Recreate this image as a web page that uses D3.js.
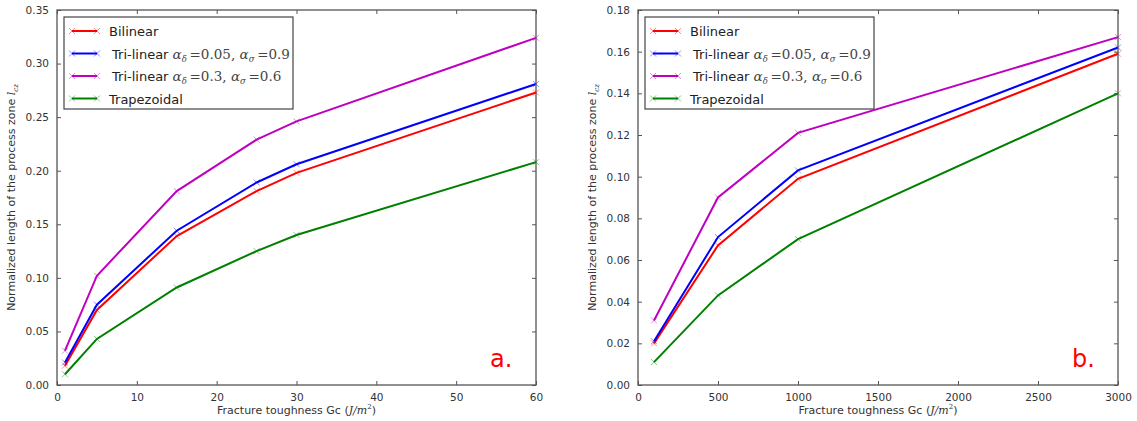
<!DOCTYPE html>
<html>
<head>
<meta charset="utf-8">
<script src="https://d3js.org/d3.v7.min.js"></script>
<style>
  body { margin: 0; background: #fff; }
  text { font-family: 'DejaVu Sans', sans-serif; }
  .tick text { fill: #333; font-size: 10.5px; }
  .frame { fill: none; stroke: #555; stroke-width: 1.3; }
  .tick line { stroke: #555; }
</style>
</head>
<body>
<svg id="chart"></svg>
<script>
const WIDTH  = 1137;
const HEIGHT = 421;

// series names and colours
const seriesNames  = ['Bilinear', 'Tri-linear a', 'Tri-linear b', 'Trapezoidal'];
const seriesColors = ['#ff0000', '#0000ff', '#bf00bf', '#008000'];

// panel a.
const gcA          = [1, 5, 15, 25, 30, 60];
const bilinearA    = [0.018, 0.070, 0.139, 0.181, 0.198, 0.273];
const triLinear1A  = [0.021, 0.075, 0.144, 0.189, 0.206, 0.281];
const triLinear2A  = [0.032, 0.102, 0.181, 0.229, 0.246, 0.324];
const trapezoidalA = [0.010, 0.043, 0.091, 0.125, 0.140, 0.208];
const xTicksA = [0, 10, 20, 30, 40, 50, 60];
const yTicksA = [0, 0.05, 0.10, 0.15, 0.20, 0.25, 0.30, 0.35];

// panel b.
const gcB          = [100, 500, 1000, 3000];
const bilinearB    = [0.020, 0.067, 0.099, 0.159];
const triLinear1B  = [0.021, 0.071, 0.103, 0.162];
const triLinear2B  = [0.031, 0.090, 0.121, 0.167];
const trapezoidalB = [0.011, 0.043, 0.070, 0.140];
const xTicksB = [0, 500, 1000, 1500, 2000, 2500, 3000];
const yTicksB = [0, 0.02, 0.04, 0.06, 0.08, 0.10, 0.12, 0.14, 0.16, 0.18];

const svg = d3.select('#chart')
  .attr('width', WIDTH)
  .attr('height', HEIGHT);

const SERIF = "'DejaVu Serif', 'Liberation Serif', serif";

function cross(cx, cy, s) {
  return 'M' + (cx - s) + ',' + (cy - s) + 'L' + (cx + s) + ',' + (cy + s) +
         'M' + (cx - s) + ',' + (cy + s) + 'L' + (cx + s) + ',' + (cy - s);
}

function drawPanel(opt) {
  const x = d3.scaleLinear().domain(opt.xDomain).range([opt.left, opt.right]);
  const y = d3.scaleLinear().domain(opt.yDomain).range([opt.bottom, opt.top]);
  const g = svg.append('g');

  // ticks inward on all sides
  g.append('g')
    .attr('transform', 'translate(0,' + opt.bottom + ')')
    .call(d3.axisBottom(x).tickValues(opt.xTicks).tickSize(-4).tickPadding(9).tickFormat(d3.format('d')))
    .call(a => a.select('.domain').remove());
  g.append('g')
    .attr('transform', 'translate(0,' + opt.top + ')')
    .call(d3.axisTop(x).tickValues(opt.xTicks).tickSize(-4).tickFormat(''))
    .call(a => a.select('.domain').remove());
  g.append('g')
    .attr('transform', 'translate(' + opt.left + ',0)')
    .call(d3.axisLeft(y).tickValues(opt.yTicks).tickSize(-4).tickPadding(8).tickFormat(d3.format('.2f')))
    .call(a => a.select('.domain').remove());
  g.append('g')
    .attr('transform', 'translate(' + opt.right + ',0)')
    .call(d3.axisRight(y).tickValues(opt.yTicks).tickSize(-4).tickFormat(''))
    .call(a => a.select('.domain').remove());

  // data lines
  const line = d3.line().x(d => x(d[0])).y(d => y(d[1]));
  opt.series.forEach((vals, i) => {
    const pts = opt.xs.map((v, j) => [v, vals[j]]);
    g.append('path')
      .datum(pts)
      .attr('d', line)
      .attr('fill', 'none')
      .attr('stroke', seriesColors[i])
      .attr('stroke-width', 2);
    g.selectAll(null)
      .data(pts)
      .enter().append('path')
      .attr('d', d => cross(x(d[0]), y(d[1]), 3))
      .attr('stroke', seriesColors[i])
      .attr('stroke-opacity', 0.45)
      .attr('stroke-width', 1);
  });

  // frame
  g.append('rect')
    .attr('class', 'frame')
    .attr('x', opt.left).attr('y', opt.top)
    .attr('width', opt.right - opt.left)
    .attr('height', opt.bottom - opt.top);

  // legend
  const lx = opt.left + 7, ly = opt.top + 7;
  g.append('rect')
    .attr('x', lx).attr('y', ly)
    .attr('width', 229).attr('height', 92)
    .attr('fill', '#fff')
    .attr('stroke', '#444')
    .attr('stroke-width', 1.2);
  // parts: i = italic serif, s = subscript, m = upright serif
  const labels = [
    [['Bilinear']],
    [['Tri-linear '], ['α', 'i'], ['δ', 's'], ['\u2009=0.05, ', 'm'], ['α', 'i'], ['σ', 's'], ['\u2009=0.9', 'm']],
    [['Tri-linear '], ['α', 'i'], ['δ', 's'], ['\u2009=0.3, ', 'm'], ['α', 'i'], ['σ', 's'], ['\u2009=0.6', 'm']],
    [['Trapezoidal']]
  ];
  seriesNames.forEach((name, i) => {
    const yy = ly + 14 + i * 22.5;
    g.append('line')
      .attr('x1', lx + 8).attr('x2', lx + 33)
      .attr('y1', yy).attr('y2', yy)
      .attr('stroke', seriesColors[i]).attr('stroke-width', 2);
    [lx + 8, lx + 33].forEach(cx => {
      g.append('path')
        .attr('d', cross(cx, yy, 3))
        .attr('stroke', seriesColors[i]).attr('stroke-opacity', 0.45);
    });
    const t = g.append('text')
      .attr('x', lx + (i === 0 || i === 3 ? 45 : 48))
      .attr('y', yy + 5)
      .attr('font-size', '13px')
      .attr('fill', '#222');
    let lowered = false;
    labels[i].forEach(p => {
      const sp = t.append('tspan').text(p[0]);
      const kind = p[1];
      if (kind) sp.attr('font-family', SERIF).attr('fill', '#444').attr('font-size', '13.5px');
      if (kind === 'i' || kind === 's') sp.attr('font-style', 'italic');
      if (kind === 's') {
        sp.attr('font-size', '8.5px').attr('dy', 3);
        lowered = true;
      } else if (lowered) {
        sp.attr('dy', -3);
        lowered = false;
      }
    });
  });

  // axis titles
  const xt = g.append('text')
    .attr('x', (opt.left + opt.right) / 2)
    .attr('y', 414)
    .attr('text-anchor', 'middle')
    .attr('font-size', '11px')
    .attr('fill', '#333');
  xt.append('tspan').text('Fracture toughness Gc (');
  xt.append('tspan').text('J/m').attr('font-family', SERIF).attr('font-style', 'italic');
  xt.append('tspan').text('2').attr('font-size', '7px').attr('dy', -5).attr('font-family', SERIF);
  xt.append('tspan').text(')').attr('dy', 5);

  const yt = g.append('text')
    .attr('transform', 'translate(' + (opt.left - 42) + ',' + ((opt.top + opt.bottom) / 2) + ') rotate(-90)')
    .attr('text-anchor', 'middle')
    .attr('font-size', '11px')
    .attr('fill', '#333');
  yt.append('tspan').text('Normalized length of the process zone ');
  yt.append('tspan').text('l').attr('font-family', SERIF).attr('font-style', 'italic');
  yt.append('tspan').text('cz').attr('font-size', '7px').attr('dy', 3).attr('font-family', SERIF).attr('font-style', 'italic');

  // panel letter
  g.append('text')
    .attr('x', opt.right - 46)
    .attr('y', opt.bottom - 18)
    .attr('font-size', '24px')
    .attr('fill', '#ff0000')
    .text(opt.letter);
}

drawPanel({
  left: 57, right: 536, top: 10, bottom: 385,
  xDomain: [0, 60], yDomain: [0, 0.35],
  xTicks: xTicksA, yTicks: yTicksA, xs: gcA,
  series: [bilinearA, triLinear1A, triLinear2A, trapezoidalA],
  letter: 'a.'
});

drawPanel({
  left: 638, right: 1118, top: 10, bottom: 385,
  xDomain: [0, 3000], yDomain: [0, 0.18],
  xTicks: xTicksB, yTicks: yTicksB, xs: gcB,
  series: [bilinearB, triLinear1B, triLinear2B, trapezoidalB],
  letter: 'b.'
});
</script>
</body>
</html>
